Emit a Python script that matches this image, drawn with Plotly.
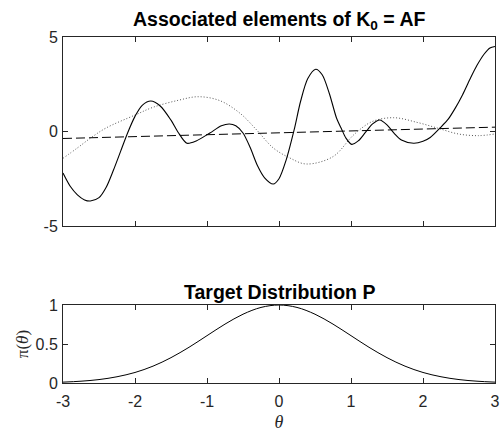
import plotly.graph_objects as go

# ---- data ----
theta_solid = [-3.0, -2.9, -2.8, -2.7, -2.62, -2.5, -2.4, -2.3, -2.2, -2.1, -2.0, -1.9, -1.78,
               -1.65, -1.5, -1.4, -1.28, -1.15, -0.96, -0.8, -0.69, -0.6, -0.5, -0.4, -0.3,
               -0.2, -0.08, 0.0, 0.1, 0.21, 0.3, 0.4, 0.51, 0.6, 0.7, 0.8, 0.87, 0.93, 1.01,
               1.1, 1.2, 1.3, 1.4, 1.5, 1.6, 1.7, 1.87, 2.0, 2.1, 2.24, 2.35, 2.45, 2.55,
               2.65, 2.75, 2.85, 2.93, 3.0]
val_solid = [-2.2, -2.9, -3.35, -3.62, -3.68, -3.5, -2.95, -2.05, -1.05, -0.05, 0.8, 1.38, 1.61,
             1.35, 0.6, -0.05, -0.62, -0.5, -0.08, 0.3, 0.4, 0.3, -0.08, -0.85, -1.8,
             -2.45, -2.78, -2.5, -1.5, 0.08, 1.6, 2.8, 3.29, 3.0, 2.0, 0.7, 0.12, -0.35, -0.68,
             -0.5, -0.05, 0.4, 0.61, 0.35, -0.1, -0.45, -0.62, -0.52, -0.32, 0.2, 0.65, 1.25, 1.95,
             2.75, 3.5, 4.1, 4.42, 4.5]

theta_dash = [-3.0, 3.0]
val_dash = [-0.37, 0.23]

theta_dot = [-3.0, -2.8, -2.6, -2.4, -2.0, -1.75, -1.4, -1.12, -0.82, -0.54, -0.31, -0.08,
             0.15, 0.38, 0.75, 0.99, 1.06, 1.29, 1.59, 1.93, 2.21, 2.49, 2.77, 3.0]
val_dot = [-1.42, -0.87, -0.3, 0.19, 0.87, 1.28, 1.65, 1.84, 1.63, 0.96, 0.08, -0.87,
           -1.4, -1.72, -1.33, -0.36, -0.1, 0.52, 0.73, 0.47, 0.17, -0.13, -0.22, -0.13]

theta_p = [-3.0, -2.75, -2.5, -2.25, -2.0, -1.75, -1.5, -1.25, -1.0, -0.75, -0.5, -0.25, 0.0,
           0.25, 0.5, 0.75, 1.0, 1.25, 1.5, 1.75, 2.0, 2.25, 2.5, 2.75, 3.0]
val_p = [0.011, 0.023, 0.044, 0.080, 0.135, 0.216, 0.325, 0.458, 0.607, 0.755, 0.882, 0.969, 1.0,
         0.969, 0.882, 0.755, 0.607, 0.458, 0.325, 0.216, 0.135, 0.080, 0.044, 0.023, 0.011]

x_ticks = [-3, -2, -1, 0, 1, 2, 3]
x_tick_labels = ["-3", "-2", "-1", "0", "1", "2", "3"]
y_ticks_top = [-5, 0, 5]
y_tick_labels_top = ["-5", "0", "5"]
y_ticks_bot = [0, 0.5, 1]
y_tick_labels_bot = ["0", "0.5", "1"]

fig = go.Figure()
fig.add_trace(go.Scatter(x=theta_dot, y=val_dot, mode="lines", xaxis="x", yaxis="y",
                         line=dict(color="#555555", width=1, dash="1px,2px", shape="spline", smoothing=1.0)))
fig.add_trace(go.Scatter(x=theta_dash, y=val_dash, mode="lines", xaxis="x", yaxis="y",
                         line=dict(color="black", width=1, dash="9px,4px")))
fig.add_trace(go.Scatter(x=theta_solid, y=val_solid, mode="lines", xaxis="x", yaxis="y",
                         line=dict(color="black", width=1.1, shape="spline", smoothing=0.8)))
fig.add_trace(go.Scatter(x=theta_p, y=val_p, mode="lines", xaxis="x2", yaxis="y2",
                         line=dict(color="black", width=1, shape="spline", smoothing=1.0)))

tick_font = dict(family="Liberation Sans, Arial", size=16, color="#262626")
axis_common = dict(showline=True, linecolor="#262626", linewidth=1, mirror="ticks",
                   ticks="inside", ticklen=5, tickcolor="#262626", showgrid=False, zeroline=False,
                   tickfont=tick_font, ticklabeloverflow="allow", automargin=False)
serif = "Liberation Serif, DejaVu Serif"

fig.update_layout(
    width=502, height=432,
    margin=dict(l=63, r=7, t=37, b=49),
    paper_bgcolor="white", plot_bgcolor="white",
    showlegend=False,
    hovermode=False,
    xaxis=dict(domain=[0, 1], range=[-3, 3], tickvals=x_ticks, showticklabels=False,
               anchor="y", **axis_common),
    yaxis=dict(domain=[0.4538, 1], range=[-5, 5], tickvals=y_ticks_top, ticktext=y_tick_labels_top,
               anchor="x", ticklabelstandoff=1, **axis_common),
    xaxis2=dict(domain=[0, 1], range=[-3, 3], tickvals=x_ticks, ticktext=x_tick_labels, anchor="y2",
                ticklabelstandoff=4,
                title=dict(text="<i>θ</i>", font=dict(family=serif, size=18, color="#262626"), standoff=9),
                **axis_common),
    yaxis2=dict(domain=[0, 0.2254], range=[0, 1], tickvals=y_ticks_bot, ticktext=y_tick_labels_bot,
                anchor="x2", ticklabelstandoff=1,
                title=dict(text="π(<i>θ</i>)", font=dict(family=serif, size=17, color="#262626"), standoff=2),
                **axis_common),
    annotations=[
        dict(text="<b>Associated elements of K<sub>0</sub> = AF</b>", xref="paper", yref="paper",
             x=0.5, y=1.0, yshift=2, xanchor="center", yanchor="bottom", showarrow=False,
             font=dict(family="Liberation Sans, Arial", size=19.5, color="black")),
        dict(text="<b>Target Distribution P</b>", xref="paper", yref="paper",
             x=0.5, y=0.2254, yshift=0, xanchor="center", yanchor="bottom", showarrow=False,
             font=dict(family="Liberation Sans, Arial", size=19.5, color="black")),
    ],
)

# remove the browser's default 8px body margin so the 502x432 figure fills the window exactly
fig.write_html("out.html", config={"displayModeBar": False},
               post_script="document.body.style.margin='0px';document.body.style.overflow='hidden';")
